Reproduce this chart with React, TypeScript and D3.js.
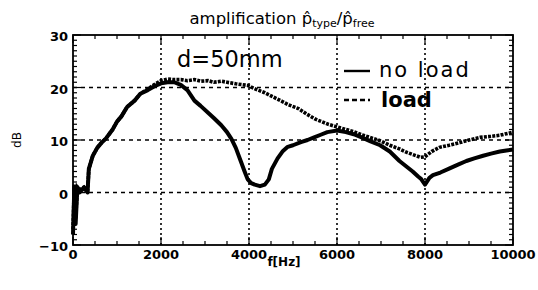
import React from "react";
import * as d3 from "d3";

// frequency (Hz) and amplification (dB)
const noLoadFreq = [
  0, 30, 60, 100, 150, 250, 330, 360, 450, 550, 650, 750, 900, 1000, 1100,
  1230, 1400, 1530, 1700, 1840, 2000, 2150, 2300, 2450, 2600, 2760, 2900,
  3070, 3200, 3370, 3500, 3600, 3700, 3820, 3900, 3970, 4050, 4130, 4250,
  4360, 4450, 4520, 4650, 4760, 4880, 5000, 5180, 5330, 5480, 5630, 5780,
  6000, 6200, 6380, 6560, 6750, 6980, 7200, 7420, 7570, 7720, 7850, 7910,
  8000, 8100, 8180, 8350, 8560, 8750, 8940, 9120, 9320, 9500, 9700, 9850,
  10000,
];
const noLoadDb = [
  -8, 1, -6, 1, 0, 1, 0, 4.5, 7, 8.5, 9.5, 10.3, 12, 13.5, 14.5, 16.3, 17.5,
  18.8, 19.5, 20.2, 20.8, 21, 21, 20.5, 19.5, 17.5, 16.5, 15.2, 14.2, 12.8,
  11.5, 10.2, 8.5, 5.8, 4, 2.5, 1.8, 1.5, 1.2, 1.5, 2.5, 4.5, 6.5, 7.8, 8.7,
  9, 9.6, 10, 10.5, 11, 11.5, 11.8, 11.5, 11.1, 10.5, 9.8, 9, 7.8, 6, 5, 4,
  3, 2.6, 1.5, 2.8, 3.3, 3.8, 4.6, 5.3, 6, 6.5, 7, 7.4, 7.8, 8, 8.2,
];

const loadFreq = [
  0, 30, 60, 100, 150, 250, 330, 360, 450, 550, 650, 750, 900, 1000, 1100,
  1230, 1400, 1530, 1700, 1840, 2000, 2150, 2300, 2450, 2600, 2760, 2900,
  3070, 3200, 3370, 3500, 3700, 3970, 4150, 4360, 4550, 4740, 4900, 5120,
  5300, 5500, 5650, 5800, 6000, 6200, 6380, 6560, 6750, 7000, 7200, 7420,
  7600, 7800, 7900, 8000, 8150, 8330, 8550, 8790, 9000, 9250, 9500, 9700,
  9850, 10000,
];
const loadDb = [
  -7, 1.5, -5, 1, 0.5, 1, 0, 4.5, 7, 8.5, 9.5, 10.3, 12, 13.5, 14.5, 16.3,
  17.5, 18.8, 19.7, 20.5, 21.3, 21.6, 21.5, 21.5, 21.3, 21.5, 21.2, 21.3, 21,
  21.2, 21, 20.7, 20.4, 19.7, 19, 18.2, 17.4, 16.7, 16, 15, 14, 13.5, 13,
  12.5, 12, 11.6, 11, 10.5, 9.8, 9, 8.3, 7.6, 7, 6.7, 6.8, 7.8, 8.6, 9, 9.5,
  10, 10.5, 10.7, 10.9, 11.2, 11.5,
];

const xTicks = [0, 2000, 4000, 6000, 8000, 10000];
const yTicks = [-10, 0, 10, 20, 30];
const xGrid = [2000, 4000, 6000, 8000];
const yGrid = [0, 10, 20];

const W = 538;
const H = 290;
const m = { left: 73, right: 25, top: 35, bottom: 45 };

export default function App() {
  const x = d3.scaleLinear().domain([0, 10000]).range([m.left, W - m.right]);
  const y = d3.scaleLinear().domain([-10, 30]).range([H - m.bottom, m.top]);

  const line = d3
    .line<[number, number]>()
    .x((d) => x(d[0]))
    .y((d) => y(d[1]));

  const noLoad = noLoadFreq.map((f, i) => [f, noLoadDb[i]] as [number, number]);
  const load = loadFreq.map((f, i) => [f, loadDb[i]] as [number, number]);

  const x0 = x(0), x1 = x(10000), y0 = y(-10), y1 = y(30);
  const yMinor = d3.range(-10, 31, 1);
  const xMinor = d3.range(0, 10001, 500);
  const font = "'DejaVu Sans', sans-serif";

  return (
    <svg width={W} height={H} style={{ position: "absolute", left: 0, top: 0, background: "#fff" }}>
      {/* grid */}
      {xGrid.map((v) => (
        <line key={"gx" + v} x1={x(v)} x2={x(v)} y1={y0} y2={y1}
          stroke="#000" strokeWidth={1.6} strokeDasharray="2,3" />
      ))}
      {yGrid.map((v) => (
        <line key={"gy" + v} x1={x0} x2={x1} y1={y(v)} y2={y(v)}
          stroke="#000" strokeWidth={1.4} strokeDasharray="4,4" />
      ))}

      {/* curves */}
      <path d={line(noLoad) || ""} fill="none" stroke="#000" strokeWidth={4} strokeLinejoin="round" />
      <path d={line(load) || ""} fill="none" stroke="#000" strokeWidth={3.6} strokeDasharray="3,1.2" />

      {/* ticks */}
      {yMinor.map((v) => (
        <g key={"ym" + v}>
          <line x1={x0} x2={x0 + (v % 10 === 0 ? 8 : 4)} y1={y(v)} y2={y(v)} stroke="#000" strokeWidth={1.2} />
          <line x1={x1} x2={x1 - (v % 10 === 0 ? 8 : 4)} y1={y(v)} y2={y(v)} stroke="#000" strokeWidth={1.2} />
        </g>
      ))}
      {xMinor.map((v) => (
        <g key={"xm" + v}>
          <line x1={x(v)} x2={x(v)} y1={y0} y2={y0 - (v % 2000 === 0 ? 8 : 4)} stroke="#000" strokeWidth={1.2} />
          <line x1={x(v)} x2={x(v)} y1={y1} y2={y1 + (v % 2000 === 0 ? 8 : 4)} stroke="#000" strokeWidth={1.2} />
        </g>
      ))}

      {/* frame */}
      <rect x={x0} y={y1} width={x1 - x0} height={y0 - y1} fill="none" stroke="#000" strokeWidth={1.8} />

      {/* tick labels */}
      {yTicks.map((v) => (
        <text key={"yl" + v} x={x0 - 5} y={y(v) + 6} textAnchor="end"
          fontFamily={font} fontSize={13} fontWeight="bold">
          {v < 0 ? "\u2212" + Math.abs(v) : v}
        </text>
      ))}
      {xTicks.map((v) => (
        <text key={"xl" + v} x={x(v)} y={y0 + 14} textAnchor="middle"
          fontFamily={font} fontSize={13} fontWeight="bold">
          {v}
        </text>
      ))}

      {/* axis titles */}
      <text x={284} y={H - 24} textAnchor="middle" fontFamily={font} fontSize={12} fontWeight="bold">
        f[Hz]
      </text>
      <text transform={`translate(21,${y(10)}) rotate(-90)`} textAnchor="middle"
        fontFamily={font} fontSize={12}>
        dB
      </text>

      {/* title */}
      <text x={282} y={24} textAnchor="middle" fontFamily={font} fontSize={16.5}>
        amplification{" "}
        <tspan>p̂</tspan>
        <tspan fontSize={11} dy={3}>type</tspan>
        <tspan dy={-3}>/</tspan>
        <tspan>p̂</tspan>
        <tspan fontSize={11} dy={3}>free</tspan>
      </text>

      {/* annotation */}
      <text x={177} y={67} fontFamily={font} fontSize={22.5}>d=50mm</text>

      {/* legend */}
      <line x1={344} x2={370} y1={71} y2={71} stroke="#000" strokeWidth={2.4} />
      <text x={379} y={77} fontFamily={font} fontSize={21} letterSpacing={2}>no load</text>
      <line x1={344} x2={370} y1={100} y2={100} stroke="#000" strokeWidth={2.4} strokeDasharray="5,3" />
      <text x={381} y={107} fontFamily={font} fontSize={21} fontWeight="bold">load</text>
    </svg>
  );
}
